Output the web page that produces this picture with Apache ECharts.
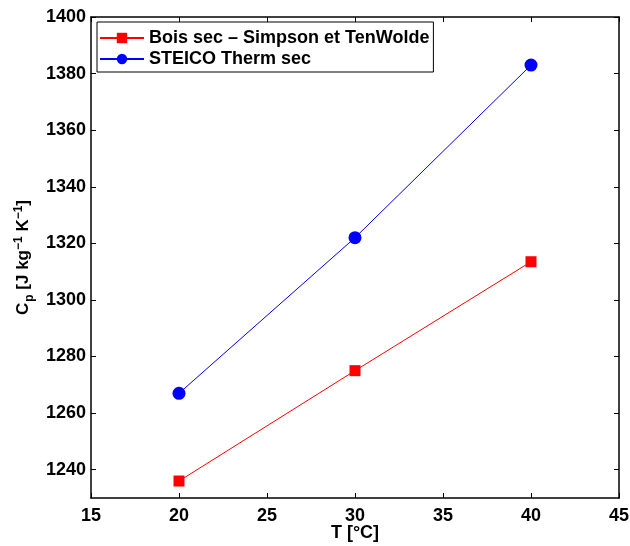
<!DOCTYPE html>
<html><head><meta charset="utf-8">
<script src="https://cdn.jsdelivr.net/npm/echarts@6/dist/echarts.min.js"></script>
<style>html,body{margin:0;padding:0;background:#fff}#c{width:630px;height:546px}</style>
</head><body><div id="c"></div>
<script>
const temps = [20, 30, 40];
const boisSec = [1236, 1275, 1313.5];
const steico = [1267, 1322, 1383];
const xTicks = [15, 20, 25, 30, 35, 40, 45];
const yTicks = [1240, 1260, 1280, 1300, 1320, 1340, 1360, 1380, 1400];
const seriesNames = ['Bois sec \u2013 Simpson et TenWolde', 'STEICO Therm sec'];

const font = 'Liberation Sans, Arial, sans-serif';
const chart = echarts.init(document.getElementById('c'));
const axisLine = {show: true, onZero: false, lineStyle: {color: '#000', width: 1.5}};
const tickIn = (cv) => ({show: true, inside: true, length: 5, customValues: cv, lineStyle: {color: '#000', width: 1}});
chart.setOption({
  animation: false,
  backgroundColor: '#fff',
  grid: {left: 91, right: 11, top: 17, bottom: 48, containLabel: false, outerBoundsMode: 'none'},
  legend: {
    orient: 'vertical', left: 97, top: 22, padding: [7, 4, 4, 2],
    borderColor: '#000', borderWidth: 1, backgroundColor: '#fff',
    itemWidth: 44, itemHeight: 13, itemGap: 3,
    textStyle: {fontFamily: font, fontWeight: 'bold', fontSize: 18, color: '#000'},
    data: seriesNames
  },
  xAxis: [{
    type: 'value', min: 15, max: 45, interval: 5,
    name: 'T [°C]', nameLocation: 'middle', nameGap: 26, nameMoveOverlap: false,
    nameTextStyle: {fontFamily: font, fontWeight: 'bold', fontSize: 18, color: '#000'},
    axisLine: axisLine, axisTick: tickIn(xTicks), splitLine: {show: false},
    axisLabel: {customValues: xTicks, formatter: v => String(v), fontFamily: font, fontWeight: 'bold', fontSize: 18, color: '#000', margin: 9}
  }, {
    type: 'value', position: 'top', min: 15, max: 45, interval: 5,
    axisLine: axisLine, axisTick: tickIn(xTicks), axisLabel: {show: false}, splitLine: {show: false}
  }],
  yAxis: [{
    type: 'value', min: 1230, max: 1400,
    name: '{a|C}{sub|p}{a| [J kg}{sup|\u22121}{a| K}{sup|\u22121}{a|]}',
    nameLocation: 'middle', nameGap: 55, nameRotate: 90, nameMoveOverlap: false,
    nameTextStyle: {
      fontFamily: font, fontWeight: 'bold', fontSize: 17, color: '#000',
      rich: {
        a: {fontFamily: font, fontWeight: 'bold', fontSize: 17, color: '#000'},
        sub: {fontFamily: font, fontWeight: 'bold', fontSize: 12, color: '#000', padding: [13, 0, 0, 1]},
        sup: {fontFamily: font, fontWeight: 'bold', fontSize: 12, color: '#000', padding: [0, 0, 10, 0]}
      }
    },
    axisLine: axisLine, axisTick: tickIn(yTicks), splitLine: {show: false},
    axisLabel: {customValues: yTicks, formatter: v => String(v), fontFamily: font, fontWeight: 'bold', fontSize: 18, color: '#000', margin: 5}
  }, {
    type: 'value', position: 'right', min: 1230, max: 1400,
    axisLine: axisLine, axisTick: tickIn(yTicks), axisLabel: {show: false}, splitLine: {show: false}
  }],
  series: [{
    name: seriesNames[0], type: 'line',
    data: temps.map((t, i) => [t, boisSec[i]]),
    symbol: 'rect', symbolSize: 11, showAllSymbol: true,
    itemStyle: {color: '#ff0000'}, lineStyle: {color: '#ff0000', width: 1}
  }, {
    name: seriesNames[1], type: 'line',
    data: temps.map((t, i) => [t, steico[i]]),
    symbol: 'circle', symbolSize: 13, showAllSymbol: true,
    itemStyle: {color: '#0000ff'}, lineStyle: {color: '#0000ff', width: 1}
  }]
});
</script></body></html>
